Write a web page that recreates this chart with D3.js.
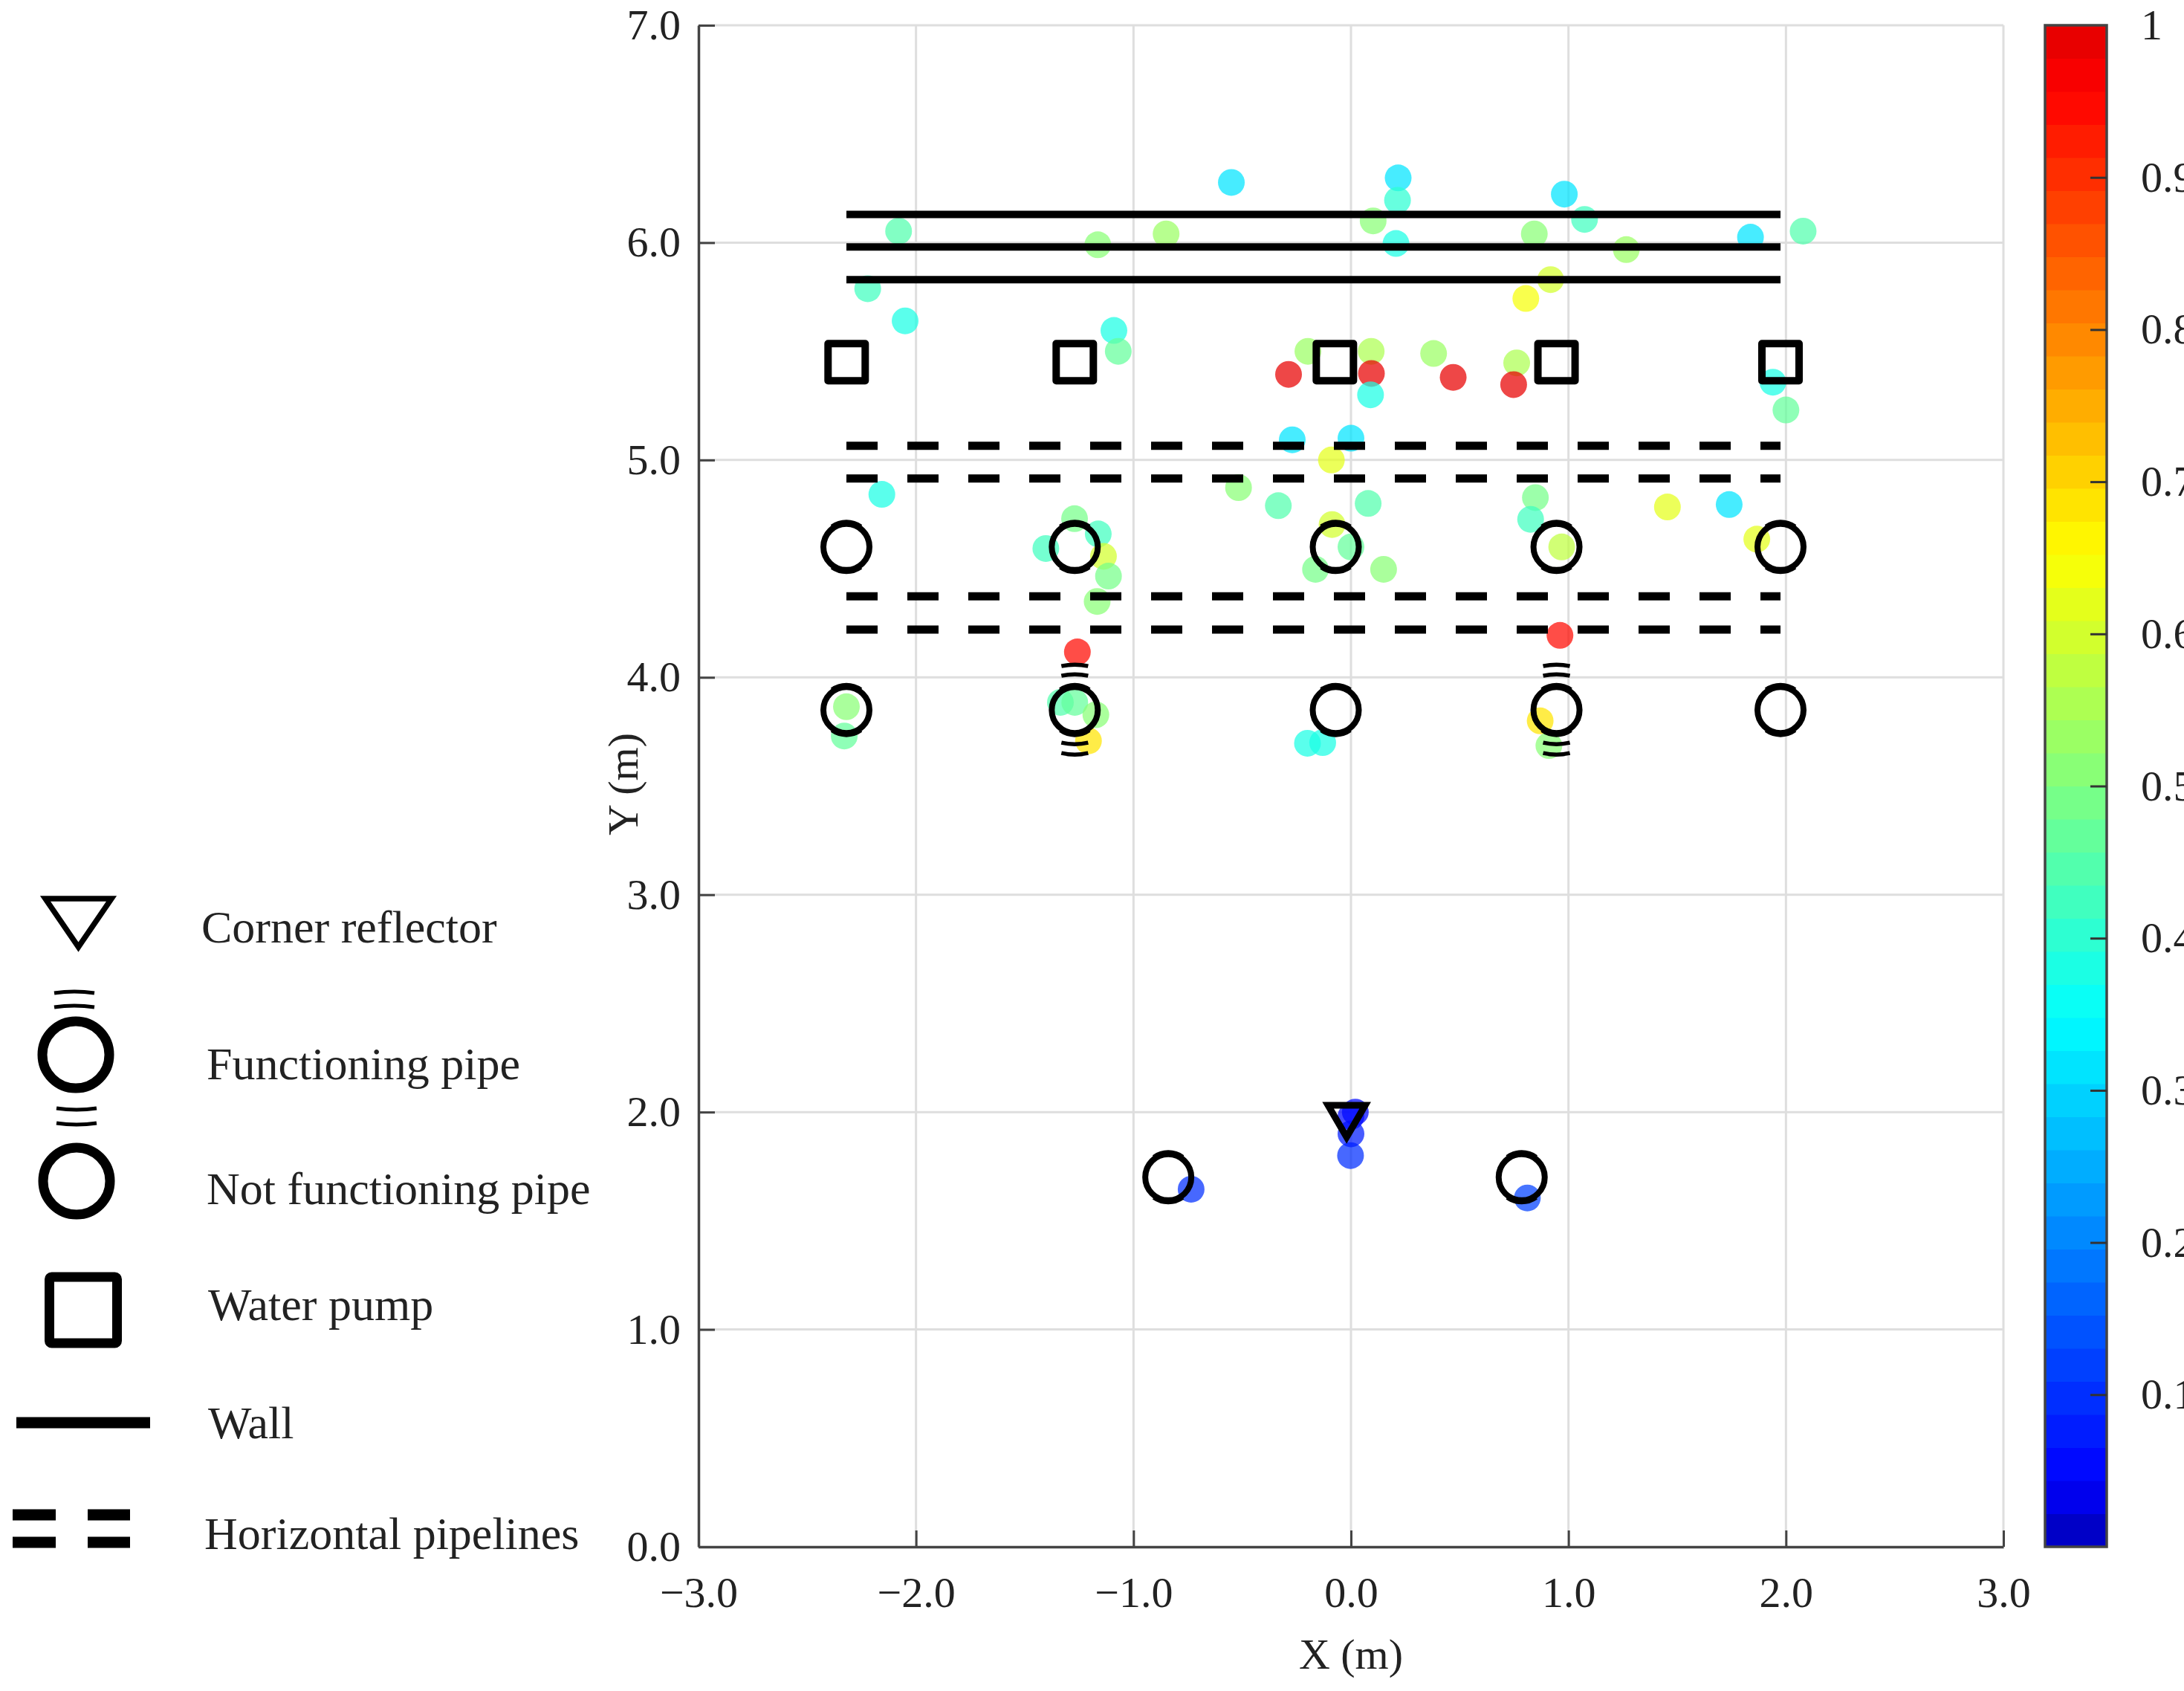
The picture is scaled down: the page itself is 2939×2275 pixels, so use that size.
<!DOCTYPE html>
<html>
<head>
<meta charset="utf-8">
<title>Scatter map</title>
<script src="https://d3js.org/d3.v7.min.js"></script>
<style>
  html, body { margin: 0; padding: 0; background: #fff; }
  svg { display: block; }
  text { font-family: "Liberation Serif", serif; fill: #222; }
</style>
</head>
<body>
<div id="chart"></div>
<script>
// --- data ---
const pointX = [
  -0.55, -2.08, -1.164, -0.85, -2.222, -2.05, -1.09, -1.07, -0.198, -0.287,
  -0.27, -0.09, -2.157, -0.517, -0.334, -1.271, -1.162, -1.403, -1.138, -1.115,
  -1.167, -0.087, -0.163, 0.217, 0.214, 0.102, 0.207, 0.981, 1.074, 0.843,
  1.266, 1.837, 2.079, 0.918, 0.804, 0.093, 0.38, 0.762, 0.094, 0.47,
  0.748, 0.09, 1.94, 2.0, 0.0, 0.079, 0.848, 0.826, 1.455, 1.739,
  1.866, 0.969, 0.0, 0.15, 0.961, -1.258, -2.32, -2.33, -1.336, -1.27,
  -1.173, -1.207, -0.2, -0.13, 0.87, 0.91, -0.735, -0.002, 0.0, 0.02,
  0.0, 0.811
];
const pointY = [
  6.277, 6.053, 5.99, 6.04, 5.788, 5.64, 5.596, 5.5, 5.5, 5.394,
  5.093, 5.0, 4.842, 4.873, 4.79, 4.73, 4.66, 4.593, 4.557, 4.466,
  4.349, 4.703, 4.497, 6.298, 6.195, 6.1, 5.996, 6.223, 6.107, 6.04,
  5.968, 6.025, 6.053, 5.83, 5.743, 5.5, 5.49, 5.447, 5.398, 5.38,
  5.347, 5.3, 5.358, 5.23, 5.1, 4.8, 4.827, 4.727, 4.784, 4.795,
  4.636, 4.6, 4.6, 4.497, 4.193, 4.117, 3.865, 3.73, 3.885, 3.885,
  3.828, 3.708, 3.697, 3.7, 3.8, 3.686, 1.645, 1.8, 1.9, 2.0,
  1.98, 1.605
];
const pointValue = [
  0.32, 0.45, 0.52, 0.53, 0.42, 0.38, 0.37, 0.46, 0.54, 0.985,
  0.32, 0.62, 0.37, 0.5, 0.44, 0.49, 0.43, 0.43, 0.6, 0.48,
  0.51, 0.6, 0.49, 0.32, 0.41, 0.52, 0.38, 0.32, 0.42, 0.52,
  0.54, 0.32, 0.45, 0.6, 0.64, 0.55, 0.54, 0.55, 0.985, 0.985,
  0.985, 0.38, 0.38, 0.47, 0.32, 0.44, 0.48, 0.43, 0.63, 0.32,
  0.63, 0.58, 0.47, 0.5, 0.94, 0.94, 0.5, 0.46, 0.45, 0.47,
  0.52, 0.68, 0.37, 0.38, 0.68, 0.52, 0.1, 0.1, 0.08, 0.05,
  0.05, 0.12
];

const wallY = [6.13, 5.98, 5.83];
const pipelineY = [5.065, 4.915, 4.373, 4.22];
const structStartX = -2.32;
const structEndX = 1.975;

const pumpX = [-2.319, -1.27, -0.074, 0.945, 1.975];
const pumpY = [5.45, 5.45, 5.45, 5.45, 5.45];

const pipeX = [-2.32, -1.27, -0.07, 0.945, 1.975, -2.32, -1.27, -0.07, 0.945, 1.975, -0.84, 0.785];
const pipeY = [4.6, 4.6, 4.6, 4.6, 4.6, 3.85, 3.85, 3.85, 3.85, 3.85, 1.7, 1.7];
const functioningPipe = [0, 0, 0, 0, 0, 0, 1, 0, 1, 0, 0, 0];

const reflectorX = -0.02;
const reflectorY = 1.97;

const xTicks = [-3, -2, -1, 0, 1, 2, 3];
const yTicks = [0, 1, 2, 3, 4, 5, 6, 7];
const colorTicks = [0.1, 0.2, 0.3, 0.4, 0.5, 0.6, 0.7, 0.8, 0.9, 1];
const legendLabels = ["Corner reflector", "Functioning pipe", "Not functioning pipe", "Water pump", "Wall", "Horizontal pipelines"];

// --- layout ---
const width = 2939, height = 2275;
const plot = { left: 940, right: 2696, top: 34, bottom: 2081 };
const cbar = { left: 2752, right: 2835 };
const fontSize = 58;
const nBands = 46;

const x = d3.scaleLinear().domain([-3, 3]).range([plot.left, plot.right]);
const y = d3.scaleLinear().domain([0, 7]).range([plot.bottom, plot.top]);
const cScale = d3.scaleLinear().domain([0, 1]).range([plot.bottom, plot.top]);

// jet-like ramp as seen on the colour bar, cut in flat bands
const jet = d3.scaleLinear()
  .domain([0, 0.043, 0.348, 0.652, 0.957, 1])
  .range(["#0000b4", "#0000ff", "#00ffff", "#ffff00", "#ff0000", "#e00000"])
  .interpolate(d3.interpolateRgb);
function bandColor(v) {
  const i = Math.min(nBands - 1, Math.floor(v * nBands));
  return jet((i + 0.5) / nBands);
}

const svg = d3.select("#chart").append("svg")
  .attr("width", width)
  .attr("height", height)
  .attr("viewBox", [0, 0, width, height]);

svg.append("rect").attr("width", width).attr("height", height).attr("fill", "#fff");

// grid
const grid = svg.append("g").attr("stroke", "#dedede").attr("stroke-width", 3).attr("fill", "none");
grid.selectAll("line.gx").data(xTicks.slice(1)).join("line")
  .attr("x1", d => x(d)).attr("x2", d => x(d))
  .attr("y1", plot.bottom).attr("y2", plot.top);
grid.selectAll("line.gy").data(yTicks.slice(1)).join("line")
  .attr("class", "gy")
  .attr("x1", plot.left).attr("x2", plot.right)
  .attr("y1", d => y(d)).attr("y2", d => y(d));

// scatter points under everything else
svg.append("g").selectAll("circle")
  .data(pointX.map((d, i) => i))
  .join("circle")
  .attr("cx", i => x(pointX[i]))
  .attr("cy", i => y(pointY[i]))
  .attr("r", 18)
  .attr("fill", i => bandColor(pointValue[i]))
  .attr("fill-opacity", 0.72);

// axes
const axisBottom = d3.axisBottom(x).tickValues(xTicks).tickSizeInner(-22).tickSizeOuter(0).tickPadding(40);
const axisLeft = d3.axisLeft(y).tickValues(yTicks).tickSizeInner(-22).tickSizeOuter(0).tickPadding(24);

const gx = svg.append("g").attr("transform", `translate(0,${plot.bottom})`).call(axisBottom);
const gy = svg.append("g").attr("transform", `translate(${plot.left},0)`).call(axisLeft);
[gx, gy].forEach(g => {
  g.selectAll("path.domain").attr("stroke", "#444").attr("stroke-width", 3.5);
  g.selectAll(".tick line").attr("stroke", "#444").attr("stroke-width", 3);
  g.selectAll("text").style("font-family", '"Liberation Serif", serif').style("font-size", fontSize + "px").attr("fill", "#222");
});

svg.append("text")
  .attr("x", x(0)).attr("y", 2245)
  .attr("text-anchor", "middle").attr("font-size", fontSize)
  .text("X (m)");
svg.append("text")
  .attr("transform", "translate(858,1055) rotate(-90)")
  .attr("text-anchor", "middle").attr("font-size", fontSize)
  .text("Y (m)");

// walls
svg.append("g").selectAll("line")
  .data(wallY).join("line")
  .attr("x1", x(structStartX)).attr("x2", x(structEndX))
  .attr("y1", d => y(d)).attr("y2", d => y(d))
  .attr("stroke", "#000").attr("stroke-width", 10);

// horizontal pipelines
svg.append("g").selectAll("line")
  .data(pipelineY).join("line")
  .attr("x1", x(structStartX)).attr("x2", x(structEndX))
  .attr("y1", d => y(d)).attr("y2", d => y(d))
  .attr("stroke", "#000").attr("stroke-width", 11)
  .attr("stroke-dasharray", "42 40");

// pumps
svg.append("g").selectAll("rect")
  .data(pumpX.map((d, i) => i)).join("rect")
  .attr("x", i => x(pumpX[i]) - 25)
  .attr("y", i => y(pumpY[i]) - 25)
  .attr("width", 50).attr("height", 50)
  .attr("fill", "none").attr("stroke", "#000").attr("stroke-width", 10)
  .attr("stroke-linejoin", "round");

// pipes: ring with the thicker top and bottom of the original marker
const lump = d3.arc().innerRadius(28).outerRadius(36.5);
const lumpAngles = [[-0.62, 0.62], [Math.PI - 0.62, Math.PI + 0.62]];

function waves(g, hw, offsets, bulge, sw) {
  g.selectAll("path.wave").data(offsets).join("path")
    .attr("class", "wave")
    .attr("d", d => `M${-hw},${d}Q0,${d + (d < 0 ? -bulge : bulge)} ${hw},${d}`)
    .attr("fill", "none").attr("stroke", "#000").attr("stroke-width", sw);
}

const pipes = svg.append("g").selectAll("g")
  .data(pipeX.map((d, i) => i)).join("g")
  .attr("transform", i => `translate(${x(pipeX[i])},${y(pipeY[i])})`);
pipes.append("circle")
  .attr("r", 31).attr("fill", "none").attr("stroke", "#000").attr("stroke-width", 8);
pipes.selectAll("path.lump").data(lumpAngles).join("path")
  .attr("class", "lump")
  .attr("d", d => lump({ startAngle: d[0], endAngle: d[1] }))
  .attr("fill", "#000");
pipes.filter(i => functioningPipe[i]).each(function () {
  waves(d3.select(this), 18, [-59, -46, 44, 58], 4, 5.5);
});

// corner reflector
const triLine = d3.line();
svg.append("path")
  .attr("transform", `translate(${x(reflectorX)},${y(reflectorY)})`)
  .attr("d", triLine([[-25, -18], [25, -18], [0, 25]]) + "Z")
  .attr("fill", "none").attr("stroke", "#000").attr("stroke-width", 9);

// colour bar
const cbarG = svg.append("g");
cbarG.selectAll("rect")
  .data(d3.range(nBands)).join("rect")
  .attr("x", cbar.left)
  .attr("width", cbar.right - cbar.left)
  .attr("y", d => cScale((d + 1) / nBands))
  .attr("height", (plot.bottom - plot.top) / nBands + 0.5)
  .attr("fill", d => jet((d + 0.5) / nBands));
cbarG.append("rect")
  .attr("x", cbar.left).attr("y", plot.top)
  .attr("width", cbar.right - cbar.left).attr("height", plot.bottom - plot.top)
  .attr("fill", "none").attr("stroke", "#444").attr("stroke-width", 3.5);

const axisColor = d3.axisRight(cScale).tickValues(colorTicks).tickFormat(d3.format("~g"))
  .tickSizeInner(-22).tickSizeOuter(0).tickPadding(46);
const gc = svg.append("g").attr("transform", `translate(${cbar.right},0)`).call(axisColor);
gc.select("path.domain").remove();
gc.selectAll(".tick line").attr("stroke", "#333").attr("stroke-width", 3)
  .filter(d => d === 1).remove();
gc.selectAll("text").style("font-family", '"Liberation Serif", serif').style("font-size", fontSize + "px").attr("fill", "#222");

// legend, placed by hand beside the plot
const legendX = [271, 278, 278, 280, 280, 275];
const legendBase = [1268, 1452, 1620, 1776, 1935, 2084];
const legend = svg.append("g");
legend.selectAll("text").data(legendLabels).join("text")
  .attr("x", (d, i) => legendX[i])
  .attr("y", (d, i) => legendBase[i])
  .attr("font-size", 62)
  .text(d => d);

legend.append("path")
  .attr("d", triLine([[61, 1209], [150, 1209], [105.5, 1274]]) + "Z")
  .attr("fill", "none").attr("stroke", "#000").attr("stroke-width", 7.5);

legend.append("circle").attr("cx", 102).attr("cy", 1419).attr("r", 45)
  .attr("fill", "none").attr("stroke", "#000").attr("stroke-width", 13);
waves(legend.append("g").attr("transform", "translate(100,1419)"), 27, [-83, -64], 4, 5);
waves(legend.append("g").attr("transform", "translate(103,1419)"), 27, [72, 92], 4, 5);

legend.append("circle").attr("cx", 103).attr("cy", 1589).attr("r", 45)
  .attr("fill", "none").attr("stroke", "#000").attr("stroke-width", 13);

legend.append("rect").attr("x", 66.5).attr("y", 1718).attr("width", 91).attr("height", 89).attr("rx", 3)
  .attr("fill", "none").attr("stroke", "#000").attr("stroke-width", 13).attr("stroke-linejoin", "round");

legend.append("line").attr("x1", 22).attr("x2", 202).attr("y1", 1914).attr("y2", 1914)
  .attr("stroke", "#000").attr("stroke-width", 15);

legend.selectAll("line.dash").data([2038, 2075]).join("line")
  .attr("class", "dash")
  .attr("x1", 17).attr("x2", 175).attr("y1", d => d).attr("y2", d => d)
  .attr("stroke", "#000").attr("stroke-width", 15)
  .attr("stroke-dasharray", "58 43");
</script>
</body>
</html>
